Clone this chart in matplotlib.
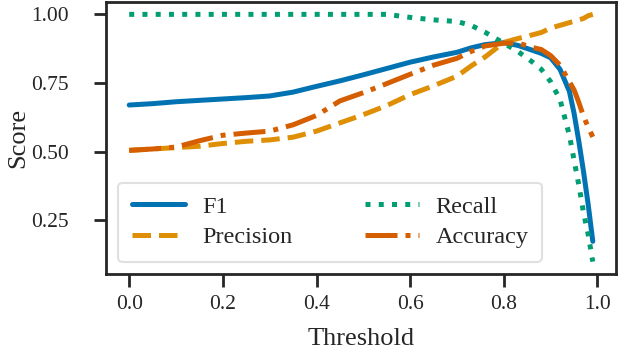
import matplotlib
matplotlib.use("Agg")
import matplotlib.pyplot as plt
import seaborn as sns

thresholds = [0.00, 0.05, 0.10, 0.15, 0.20, 0.25, 0.30, 0.35, 0.40, 0.45,
              0.50, 0.55, 0.60, 0.65, 0.70, 0.73, 0.76, 0.80, 0.83, 0.86,
              0.88, 0.90, 0.92, 0.94, 0.95, 0.96, 0.97, 0.98, 0.99]
f1 = [0.670, 0.675, 0.682, 0.687, 0.692, 0.697, 0.703, 0.717, 0.738, 0.758,
      0.780, 0.803, 0.826, 0.845, 0.862, 0.878, 0.890, 0.897, 0.887, 0.870,
      0.858, 0.842, 0.800, 0.720, 0.640, 0.540, 0.430, 0.310, 0.174]
precision = [0.505, 0.510, 0.515, 0.520, 0.530, 0.538, 0.543, 0.553, 0.575, 0.605,
             0.635, 0.668, 0.708, 0.740, 0.775, 0.812, 0.845, 0.898, 0.912, 0.925,
             0.934, 0.950, 0.960, 0.970, 0.975, 0.980, 0.985, 0.995, 1.000]
recall = [1.0, 1.0, 1.0, 1.0, 1.0, 1.0, 1.0, 1.0, 1.0, 1.0,
          1.0, 1.0, 0.989, 0.980, 0.974, 0.960, 0.935, 0.895, 0.865, 0.828,
          0.800, 0.755, 0.690, 0.560, 0.470, 0.380, 0.280, 0.200, 0.100]
accuracy = [0.505, 0.510, 0.517, 0.540, 0.560, 0.568, 0.575, 0.598, 0.632, 0.685,
            0.715, 0.748, 0.782, 0.815, 0.840, 0.865, 0.885, 0.895, 0.896, 0.880,
            0.872, 0.850, 0.815, 0.755, 0.725, 0.680, 0.630, 0.590, 0.554]

sns.set_theme(style="ticks", palette="colorblind")
plt.rcParams['font.family'] = ['Liberation Serif', 'DejaVu Serif']
pal = sns.color_palette("colorblind")

fig = plt.figure(figsize=(6.2, 3.52), dpi=100)
ax = fig.add_axes([0.171, 0.2216, 0.8225, 0.7727])

lw = 3.6
ax.plot(thresholds, f1, '-', color=pal[0], lw=lw, label='F1')
ax.plot(thresholds, precision, '--', color=pal[1], lw=lw, label='Precision')
ax.plot(thresholds, recall, ':', color=pal[2], lw=lw, label='Recall')
ax.plot(thresholds, accuracy, '-.', color=pal[3], lw=lw, label='Accuracy')

ax.set_xticks([0.0, 0.2, 0.4, 0.6, 0.8, 1.0])
ax.set_yticks([0.25, 0.50, 0.75, 1.00])
ax.set_xlabel('Threshold', fontsize=19, labelpad=10)
ax.set_ylabel('Score', fontsize=19, labelpad=1)

for s in ax.spines.values():
    s.set_linewidth(2)
    s.set_color('#262626')
ax.tick_params(axis='both', labelsize=15.5, width=2, length=9, color='#262626')
ax.tick_params(axis='y', pad=18)
ax.tick_params(axis='x', pad=6)

leg = ax.legend(loc='lower left', ncol=2, fontsize=17.5, handlelength=2.2,
                handletextpad=0.7, columnspacing=3.0, labelspacing=0.35,
                borderpad=0.55)
leg.get_frame().set_edgecolor('#d9d9d9')
leg.get_frame().set_linewidth(1.5)

fig.savefig('out.png', dpi=100)
